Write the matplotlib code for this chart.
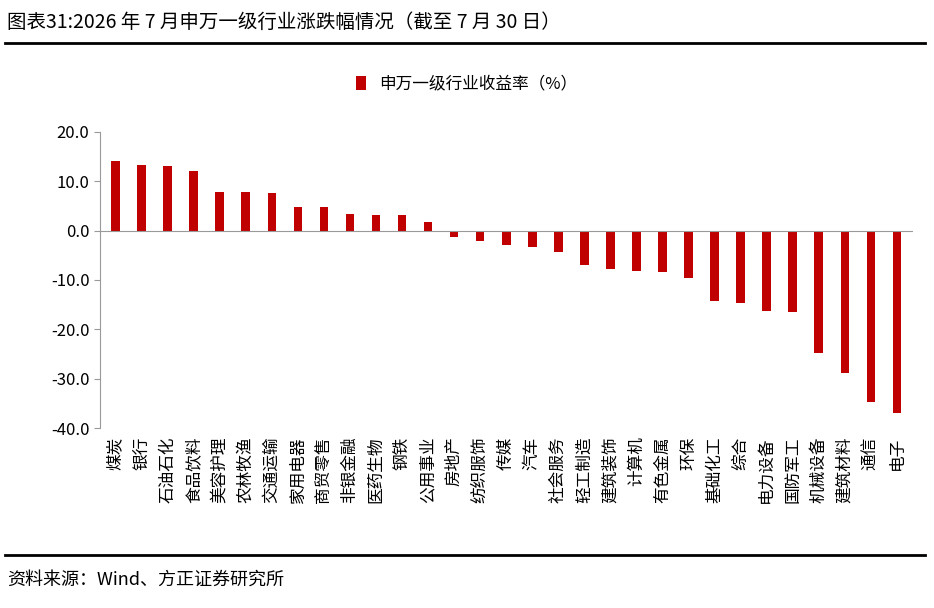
import matplotlib.pyplot as plt
import numpy as np

plt.rcParams['font.family'] = ['Noto Sans CJK SC', 'DejaVu Sans']
plt.rcParams['axes.unicode_minus'] = False

industries = ['煤炭', '银行', '石油石化', '食品饮料', '美容护理', '农林牧渔', '交通运输',
              '家用电器', '商贸零售', '非银金融', '医药生物', '钢铁', '公用事业', '房地产',
              '纺织服饰', '传媒', '汽车', '社会服务', '轻工制造', '建筑装饰', '计算机',
              '有色金属', '环保', '基础化工', '综合', '电力设备', '国防军工', '机械设备',
              '建筑材料', '通信', '电子']
returns = [14.2, 13.2, 13.1, 12.0, 7.9, 7.9, 7.6, 4.7, 4.7, 3.4, 3.2, 3.1, 1.7, -1.3,
           -2.1, -2.9, -3.4, -4.4, -6.9, -7.7, -8.2, -8.3, -9.6, -14.2, -14.6, -16.2,
           -16.4, -24.7, -28.8, -34.7, -37.0]

fig = plt.figure(figsize=(9.34, 6.08), dpi=100)
ax = fig.add_axes([0.107, 0.296, 0.87, 0.487])
x = np.arange(len(industries))
ax.bar(x, returns, width=0.33, color='#C00000', label='申万一级行业收益率（%）')
ax.set_xlim(-0.6, len(industries) - 0.4)
ax.set_ylim(-40, 20)
ax.set_yticks(np.arange(-40, 21, 10))
ax.set_yticklabels([f'{v:.1f}' for v in np.arange(-40, 21, 10)], fontsize=12)
ax.set_xticks([])
for s in ['top', 'right', 'bottom']:
    ax.spines[s].set_visible(False)
ax.spines['left'].set_color('#999999')
ax.axhline(0, color='#999999', lw=0.8)
ax.tick_params(axis='y', length=4, color='#999999')

# vertical category labels hanging below the axis
for i, name in enumerate(industries):
    ax.annotate(name, (i, -40), xytext=(0, -6), textcoords='offset points',
                rotation=90, ha='center', va='top', fontsize=12, annotation_clip=False)

fig.legend(loc='center', bbox_to_anchor=(0.5, 0.862), frameon=False, fontsize=12,
           handlelength=0.6, handleheight=0.9)

fig.text(0.008, 0.963, '图表31:2026 年 7 月申万一级行业涨跌幅情况（截至 7 月 30 日）',
         fontsize=14, va='center')
fig.add_artist(plt.Line2D([0.005, 0.99], [0.93, 0.93], color='black', lw=2))
fig.add_artist(plt.Line2D([0.005, 0.99], [0.087, 0.087], color='black', lw=2))
fig.text(0.008, 0.046, '资料来源：Wind、方正证券研究所', fontsize=13, style='italic', va='center')

fig.savefig('out.png')
